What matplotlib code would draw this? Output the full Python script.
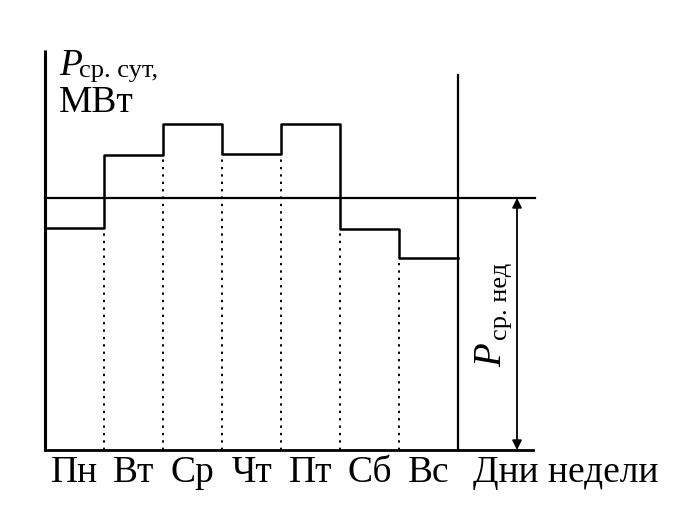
import matplotlib
matplotlib.use("Agg")
import matplotlib.pyplot as plt

# daily mean power by weekday (arbitrary units)
days = ["Пн", "Вт", "Ср", "Чт", "Пт", "Сб", "Вс"]
p_day = [222, 295, 326, 296, 326, 221, 192]
p_week = 252

plt.rcParams["font.family"] = ["Liberation Serif", "DejaVu Serif"]

fig = plt.figure(figsize=(6.9, 5.22), dpi=100)
ax = fig.add_axes([0, 0, 1, 1])
ax.set_xlim(-45 / 59, (690 - 45) / 59)
ax.set_ylim(-72, 450)
ax.axis("off")

n = len(days)
xs = list(range(n + 1))
k = "black"

# axes frame
ax.plot([0, 0], [0, 400], color=k, lw=2.2, solid_capstyle="butt")
ax.plot([0, 8.27], [0, 0], color=k, lw=2.0)
ax.plot([n, n], [0, 375], color=k, lw=1.6)

# daily steps
ax.step(xs, p_day + [p_day[-1]], where="post", color=k, lw=1.8)
ax.plot([0, 0], [0, p_day[0]], color=k, lw=1.8)

# dotted day boundaries
for i in range(1, n):
    ax.plot([i, i], [0, min(p_day[i - 1], p_day[i])], color=k, lw=1.4,
            ls=(0, (1.2, 2.6)))

# weekly average
ax.plot([0, 8.31], [p_week, p_week], color=k, lw=1.6)
ax.annotate("", xy=(8.0, 0), xytext=(8.0, p_week),
            arrowprops=dict(arrowstyle="<|-|>", color=k, lw=1.3,
                            mutation_scale=14, shrinkA=0, shrinkB=0))

# day labels
for i, d in enumerate(days):
    ax.text(i + 0.5, -6, d, ha="center", va="top", fontsize=27)
ax.text(7.25, -6, "Дни недели", ha="left", va="top", fontsize=27)

# y label
ax.text(0.24, 375, "P", fontsize=27, style="italic", ha="left", va="baseline")
ax.text(0.58, 373, "ср. сут,", fontsize=19, ha="left", va="baseline")
ax.text(0.24, 338, "МВт", fontsize=27, ha="left", va="baseline")

# weekly label, rotated
ax.text(7.25, 83, "P", fontsize=28, style="italic", rotation=90,
        ha="left", va="bottom")
ax.text(7.54, 110, "ср. нед", fontsize=19, rotation=90,
        ha="left", va="bottom")

fig.savefig("out.png", dpi=100)
